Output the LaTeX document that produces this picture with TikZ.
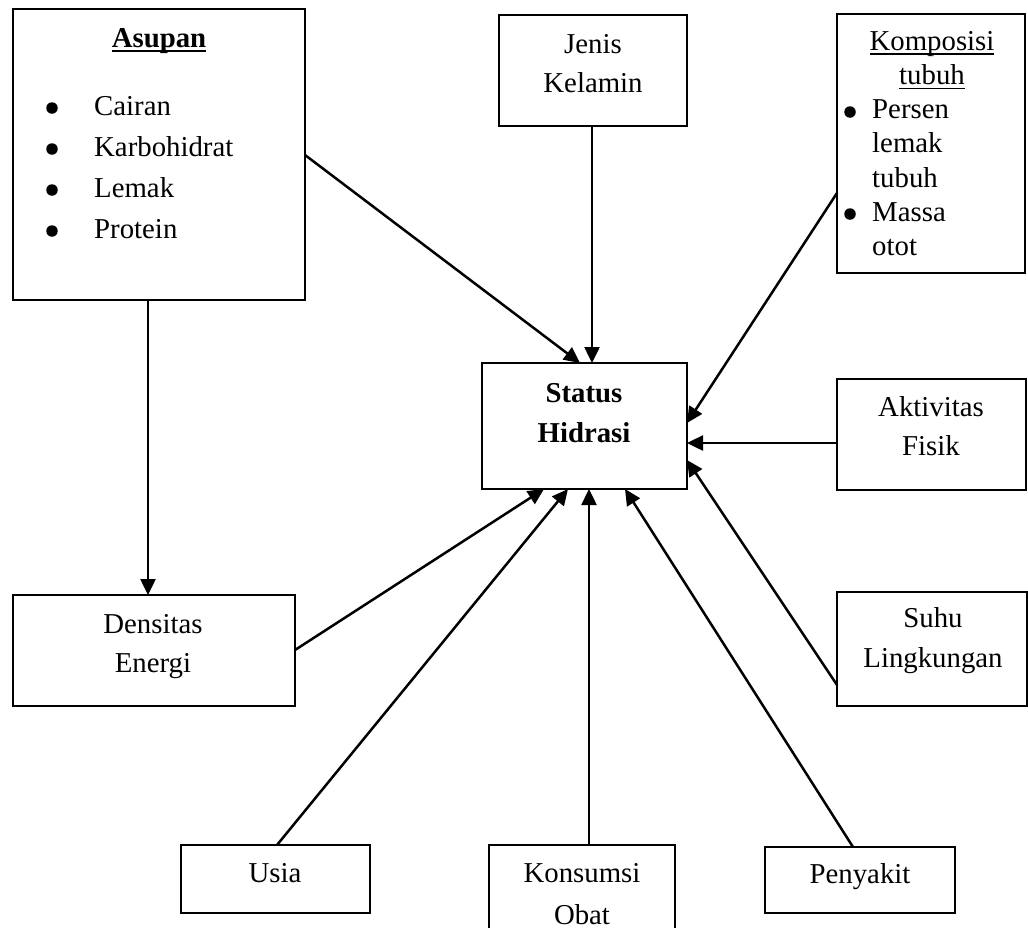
\documentclass[tikz,border=0pt]{standalone}
\usepackage{fontspec}
\setmainfont{Liberation Serif}
\usetikzlibrary{arrows.meta,fit}
\newcommand\ctab[1]{\begin{tabular}[t]{@{}c@{}}#1\end{tabular}}
\newcommand\ltab[1]{\begin{tabular}[t]{@{}l@{}}#1\end{tabular}}
\newcommand\myul[1]{\setbox0\hbox{#1}\rlap{\rule[-4.6pt]{\wd0}{1.4pt}}\box0}
\begin{document}
\begin{tikzpicture}[x=1pt,y=-1pt,
  box/.style={draw=black,line width=1.3pt,inner sep=0pt,outer sep=0pt},
  txt/.style={inner sep=0pt,anchor=base,font=\fontsize{28.8pt}{34.3pt}\selectfont},
  ltxt/.style={txt,anchor=base west},
  bul/.style={circle,fill=black,inner sep=0pt,minimum size=11.5pt},
  arr/.style={line width=2.5pt,-{Triangle[length=16pt,width=15pt]}}]
\useasboundingbox (0,0) rectangle (1028,927);
\fill[white] (0,0) rectangle (1028,927);
\clip (0,0) rectangle (1028,927);
% boxes
\node[box,fit={(13,9) (305,300)}] (asupan) {};
\node[box,fit={(499,15) (687,126)}] (jenis) {};
\node[box,fit={(837,14) (1025,273)}] (kompos) {};
\node[box,fit={(482,363) (687,489)}] (status) {};
\node[box,fit={(837,379) (1026,490)}] (aktiv) {};
\node[box,fit={(837,592) (1027,706)}] (suhu) {};
\node[box,fit={(13,595) (295,706)}] (densitas) {};
\node[box,fit={(181,845) (370,913)}] (usia) {};
\node[box,fit={(489,845) (675,945)}] (konsumsi) {};
\node[box,fit={(765,847) (955,913)}] (penyakit) {};
% texts
\node[txt] (asupanT) at (159,47) {\myul{\textbf{Asupan}}};
\node[bul] (b1) at (52,108) {};
\node[bul] (b2) at (52,149) {};
\node[bul] (b3) at (52,190) {};
\node[bul] (b4) at (52,231) {};
\node[ltxt] (asupanL) at (94,115) {\ltab{Cairan\\[6.7pt]Karbohidrat\\[6.7pt]Lemak\\[6.7pt]Protein}};
\node[txt] (jenisT) at (593,53) {\ctab{Jenis\\[4.7pt]Kelamin}};
\node[txt] (komposT) at (932,50) {\ctab{\myul{Komposisi}\\\myul{tubuh}}};
\node[bul] (b5) at (850,112) {};
\node[bul] (b6) at (850,214) {};
\node[ltxt] (komposL) at (872,118.6) {\ltab{Persen\\lemak\\tubuh\\Massa\\otot}};
\node[txt] (statusT) at (584,402) {\ctab{\textbf{Status}\\[5.7pt]\textbf{Hidrasi}}};
\node[txt] (aktivT) at (931,416) {\ctab{Aktivitas\\[4.7pt]Fisik}};
\node[txt] (suhuT) at (933,627) {\ctab{Suhu\\[5.7pt]Lingkungan}};
\node[txt] (densitasT) at (153,633) {\ctab{Densitas\\[4.7pt]Energi}};
\node[txt] (usiaT) at (275,882) {Usia};
\node[txt] (konsumsiT) at (582,882) {\ctab{Konsumsi\\[7.7pt]Obat}};
\node[txt] (penyakitT) at (860,883) {Penyakit};
% connectors
\draw[arr] (asupan.east |- 0,155) -- (status.north -| 580,0);
\draw[arr] (jenis.south -| 592,0) -- (status.north -| 592,0);
\draw[arr] (kompos.west |- 0,193) -- (status.east |- 0,423);
\draw[arr] (aktiv.west |- 0,443) -- (status.east |- 0,443);
\draw[arr] (suhu.west |- 0,685) -- (status.east |- 0,460);
\draw[arr] (penyakit.north -| 853,0) -- (status.south -| 625,0);
\draw[arr] (konsumsi.north -| 589,0) -- (status.south -| 589,0);
\draw[arr] (usia.north -| 277,0) -- (status.south -| 568,0);
\draw[arr] (densitas.east |- 0,650) -- (status.south -| 544,0);
\draw[arr] (asupan.south -| 148,0) -- (densitas.north -| 148,0);
\end{tikzpicture}
\end{document}
